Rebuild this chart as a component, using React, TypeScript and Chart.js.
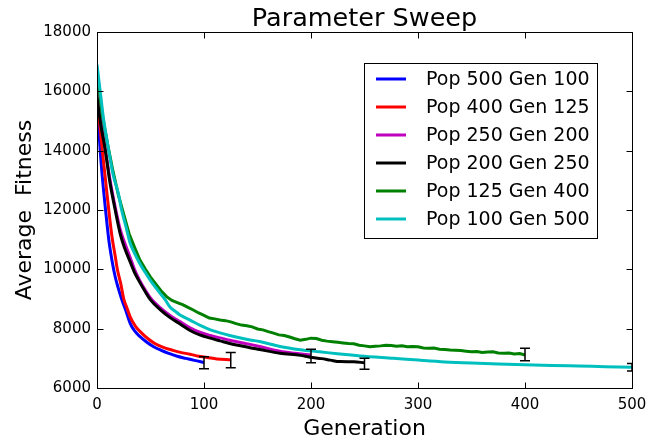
import { useEffect, useRef } from 'react';
import { Chart, registerables } from 'chart.js';
Chart.register(...registerables);

const FONT = '"DejaVu Sans", sans-serif';

const seriesLabels = ['Pop 500 Gen 100', 'Pop 400 Gen 125', 'Pop 250 Gen 200', 'Pop 200 Gen 250', 'Pop 125 Gen 400', 'Pop 100 Gen 500'];
const seriesColors = ['#0000ff', '#ff0000', '#bf00bf', '#000000', '#008000', '#00bfbf'];

const blueGen = [0, 3, 5, 8, 11, 14, 17, 20, 23, 27, 31, 35, 40, 46, 53, 60, 67, 75, 83, 91, 100];
const blueVal = [15700, 14000, 13100, 12000, 11000, 10300, 9750, 9350, 9000, 8600, 8180, 7930, 7740, 7560, 7390, 7270, 7170, 7070, 7000, 6930, 6860];

const redGen = [0, 2, 5, 8, 11, 14, 17, 19, 22, 25, 28, 31, 36, 42, 48, 54, 62, 70, 78, 87, 95, 103, 112, 125];
const redVal = [15900, 15100, 14000, 13000, 12000, 11100, 10450, 10000, 9550, 9000, 8700, 8400, 8080, 7840, 7650, 7500, 7370, 7280, 7200, 7140, 7070, 7030, 6980, 6950];

const magentaGen = [0, 3, 8, 12, 17, 22, 26, 31, 35, 40, 45, 50, 59, 68, 78, 87, 96, 106, 115, 124, 143, 152, 171, 185, 200];
const magentaVal = [16000, 15150, 14000, 13050, 12100, 11300, 10880, 10400, 10000, 9620, 9310, 9040, 8710, 8450, 8230, 8030, 7880, 7770, 7690, 7610, 7470, 7400, 7240, 7170, 7110];

const blackGen = [0, 3, 8, 12, 17, 22, 26, 31, 35, 40, 45, 50, 59, 68, 78, 87, 96, 106, 115, 124, 143, 152, 171, 190, 199, 210, 218, 227, 240, 250];
const blackVal = [15800, 15000, 13950, 12950, 12000, 11150, 10700, 10250, 9900, 9560, 9250, 8970, 8640, 8380, 8150, 7940, 7790, 7680, 7590, 7500, 7360, 7300, 7170, 7100, 7040, 6990, 6940, 6890, 6885, 6850];

const greenGen = [0, 5, 10, 15, 20, 25, 30, 35, 40, 45, 50, 55, 60, 65, 70, 75, 80, 85, 90, 95, 100, 105, 110, 115, 120, 125, 130, 135, 140, 145, 150, 155, 160, 165, 170, 175, 180, 185, 190, 195, 200, 205, 210, 215, 220, 225, 230, 235, 240, 245, 250, 255, 260, 265, 270, 275, 280, 285, 290, 295, 300, 305, 310, 315, 320, 325, 330, 335, 340, 345, 350, 355, 360, 365, 370, 375, 380, 385, 390, 395, 400];
const greenVal = [16600, 15200, 14200, 13300, 12500, 11850, 11200, 10750, 10320, 10020, 9740, 9500, 9270, 9080, 8950, 8880, 8810, 8720, 8630, 8530, 8450, 8360, 8330, 8290, 8270, 8230, 8170, 8120, 8100, 8060, 7990, 7960, 7900, 7850, 7790, 7770, 7720, 7660, 7610, 7640, 7680, 7670, 7610, 7580, 7560, 7540, 7520, 7500, 7490, 7440, 7420, 7390, 7410, 7420, 7440, 7430, 7410, 7420, 7390, 7400, 7390, 7350, 7340, 7350, 7310, 7300, 7280, 7270, 7260, 7240, 7220, 7230, 7200, 7210, 7220, 7180, 7170, 7180, 7150, 7160, 7110];

const cyanGen = [0, 3, 6, 11, 15, 20, 23, 27, 31, 35, 40, 45, 50, 55, 59, 64, 68, 73, 78, 87, 96, 106, 115, 124, 143, 152, 171, 190, 208, 227, 246, 277, 300, 325, 350, 375, 400, 425, 450, 475, 500];
const cyanVal = [16900, 16000, 15100, 14000, 13200, 12550, 12000, 11450, 10880, 10550, 10200, 9900, 9620, 9380, 9190, 8960, 8740, 8590, 8450, 8290, 8120, 7960, 7860, 7770, 7620, 7570, 7400, 7290, 7220, 7145, 7080, 7000, 6940, 6880, 6840, 6810, 6785, 6760, 6740, 6720, 6700];

const seriesGens = [blueGen, redGen, magentaGen, blackGen, greenGen, cyanGen];
const seriesVals = [blueVal, redVal, magentaVal, blackVal, greenVal, cyanVal];

const errGen = [100, 125, 200, 250, 400, 500];
const errMean = [6850, 6940, 7080, 6815, 7130, 6700];
const errStd = [205, 255, 225, 185, 210, 130];

const xTicks = [0, 100, 200, 300, 400, 500];
const yTicks = [6000, 8000, 10000, 12000, 14000, 16000, 18000];

const titleText = 'Parameter Sweep';
const xTitle = 'Generation';
const yTitle = 'Average  Fitness';

const decorPlugin = {
  id: 'decor',
  afterDatasetsDraw(chart: any) {
    const { ctx, chartArea: ca, scales } = chart;
    const xs = scales.x, ys = scales.y;
    ctx.save();
    ctx.beginPath();
    ctx.rect(ca.left, ca.top, ca.right - ca.left, ca.bottom - ca.top);
    ctx.clip();
    ctx.strokeStyle = '#000';
    ctx.lineWidth = 1.5;
    errGen.forEach((g, i) => {
      const px = xs.getPixelForValue(g);
      const y1 = ys.getPixelForValue(errMean[i] + errStd[i]);
      const y2 = ys.getPixelForValue(errMean[i] - errStd[i]);
      ctx.beginPath();
      ctx.moveTo(px, y1); ctx.lineTo(px, y2);
      ctx.moveTo(px - 5, y1); ctx.lineTo(px + 5, y1);
      ctx.moveTo(px - 5, y2); ctx.lineTo(px + 5, y2);
      ctx.stroke();
    });
    ctx.restore();
  },
  afterDraw(chart: any) {
    const { ctx, chartArea: ca, scales } = chart;
    const xs = scales.x, ys = scales.y;
    ctx.save();
    ctx.strokeStyle = '#000';
    ctx.lineWidth = 1;
    const L = Math.round(ca.left) + 0.5, R = Math.round(ca.right) + 0.5;
    const T = Math.round(ca.top) + 0.5, B = Math.round(ca.bottom) + 0.5;
    ctx.beginPath();
    xTicks.forEach((v) => {
      const px = Math.round(xs.getPixelForValue(v)) + 0.5;
      ctx.moveTo(px, B); ctx.lineTo(px, B - 6);
      ctx.moveTo(px, T); ctx.lineTo(px, T + 6);
    });
    yTicks.forEach((v) => {
      const py = Math.round(ys.getPixelForValue(v)) + 0.5;
      ctx.moveTo(L, py); ctx.lineTo(L + 6, py);
      ctx.moveTo(R, py); ctx.lineTo(R - 6, py);
    });
    ctx.stroke();
    ctx.strokeRect(L, T, R - L, B - T);

    const lx = 364.5, ly = 63.5, lw = 233, lh = 175;
    ctx.fillStyle = '#fff';
    ctx.fillRect(lx, ly, lw, lh);
    ctx.strokeRect(lx, ly, lw, lh);
    ctx.font = `19px ${FONT}`;
    ctx.textBaseline = 'middle';
    ctx.textAlign = 'left';
    seriesLabels.forEach((lab, i) => {
      const cy = 79 + i * 28;
      ctx.strokeStyle = seriesColors[i];
      ctx.lineWidth = 3;
      ctx.beginPath();
      ctx.moveTo(376, cy); ctx.lineTo(406, cy);
      ctx.stroke();
      ctx.fillStyle = '#000';
      ctx.fillText(lab, 426, cy + 1);
    });

    ctx.fillStyle = '#000';
    ctx.textAlign = 'center';
    ctx.textBaseline = 'alphabetic';
    const cx = (ca.left + ca.right) / 2;
    ctx.font = `25.5px ${FONT}`;
    ctx.fillText(titleText, cx, 26);
    ctx.font = `22px ${FONT}`;
    ctx.fillText(xTitle, cx, 435);
    ctx.save();
    ctx.translate(31, (ca.top + ca.bottom) / 2);
    ctx.rotate(-Math.PI / 2);
    ctx.fillText(yTitle, 0, 0);
    ctx.restore();
    ctx.restore();
  },
};

export default function App() {
  const ref = useRef<HTMLCanvasElement>(null);
  useEffect(() => {
    const datasets = seriesLabels.map((lab, i) => ({
      label: lab,
      data: seriesGens[i].map((g, j) => ({ x: g, y: seriesVals[i][j] })),
      borderColor: seriesColors[i],
      backgroundColor: seriesColors[i],
      borderWidth: 3,
      pointRadius: 0,
      cubicInterpolationMode: i === 4 ? 'default' : 'monotone',
      tension: 0,
      fill: false,
      order: seriesLabels.length - i,
    }));
    const chart = new Chart(ref.current!, {
      type: 'line',
      data: { datasets },
      options: {
        animation: false,
        responsive: false,
        maintainAspectRatio: false,
        layout: { padding: { top: 32, right: 36, left: 0, bottom: 0 } },
        plugins: { legend: { display: false }, tooltip: { enabled: false }, title: { display: false } },
        scales: {
          x: {
            type: 'linear', min: 0, max: 500,
            afterFit: (s: any) => { s.height = 55; },
            afterBuildTicks: (s: any) => { s.ticks = xTicks.map((v) => ({ value: v })); },
            grid: { display: false, drawTicks: false },
            border: { display: false },
            ticks: { color: '#000', font: { family: FONT, size: 15 }, padding: 8, maxRotation: 0 },
          },
          y: {
            type: 'linear', min: 6000, max: 18000,
            afterFit: (s: any) => { s.width = 97; },
            afterBuildTicks: (s: any) => { s.ticks = yTicks.map((v) => ({ value: v })); },
            grid: { display: false, drawTicks: false },
            border: { display: false },
            ticks: { color: '#000', font: { family: FONT, size: 15 }, padding: 6, callback: (v: any) => String(v) },
          },
        },
      },
      plugins: [decorPlugin],
    } as any);
    return () => chart.destroy();
  }, []);
  return (
    <div style={{ position: 'absolute', left: 0, top: 0, width: 668, height: 443, background: '#fff' }}>
      <canvas ref={ref} width={668} height={443} style={{ width: 668, height: 443, display: 'block' }} />
    </div>
  );
}
